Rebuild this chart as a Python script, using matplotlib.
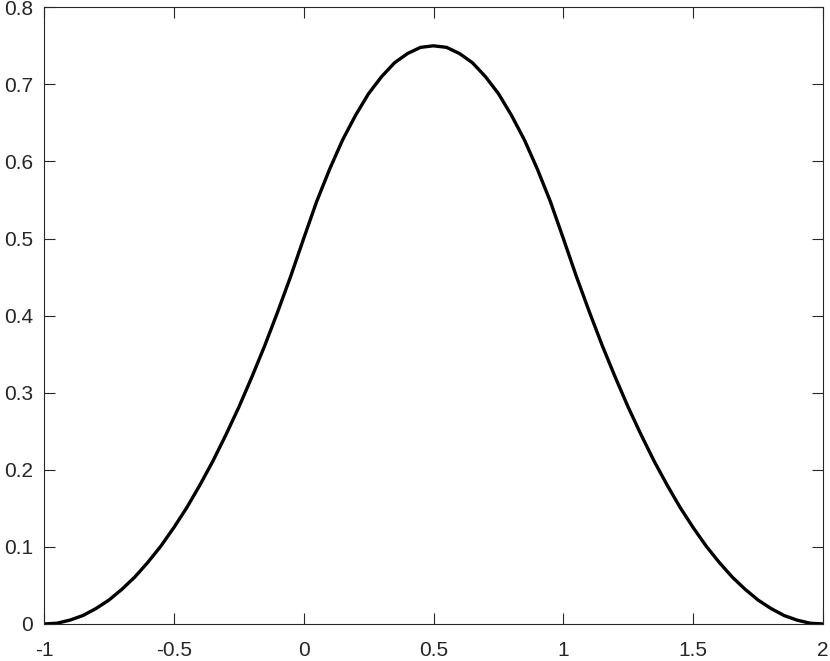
import matplotlib
matplotlib.use("Agg")
import matplotlib.pyplot as plt

# curve samples (step 0.05)
x = [-1.0, -0.95, -0.9, -0.85, -0.8, -0.75, -0.7, -0.65, -0.6, -0.55, -0.5,
     -0.45, -0.4, -0.35, -0.3, -0.25, -0.2, -0.15, -0.1, -0.05, 0.0,
     0.05, 0.1, 0.15, 0.2, 0.25, 0.3, 0.35, 0.4, 0.45, 0.5,
     0.55, 0.6, 0.65, 0.7, 0.75, 0.8, 0.85, 0.9, 0.95, 1.0,
     1.05, 1.1, 1.15, 1.2, 1.25, 1.3, 1.35, 1.4, 1.45, 1.5,
     1.55, 1.6, 1.65, 1.7, 1.75, 1.8, 1.85, 1.9, 1.95, 2.0]
y = [0.0, 0.001, 0.005, 0.011, 0.02, 0.031, 0.045, 0.061, 0.08, 0.101, 0.125,
     0.151, 0.18, 0.211, 0.245, 0.281, 0.32, 0.361, 0.405, 0.451, 0.5,
     0.548, 0.59, 0.628, 0.66, 0.688, 0.71, 0.728, 0.74, 0.748, 0.75,
     0.748, 0.74, 0.728, 0.71, 0.688, 0.66, 0.628, 0.59, 0.548, 0.5,
     0.451, 0.405, 0.361, 0.32, 0.281, 0.245, 0.211, 0.18, 0.151, 0.125,
     0.101, 0.08, 0.061, 0.045, 0.031, 0.02, 0.011, 0.005, 0.001, 0.0]

xticks = [-1, -0.5, 0, 0.5, 1, 1.5, 2]
xlabels = ['-1', '-0.5', '0', '0.5', '1', '1.5', '2']
yticks = [0, 0.1, 0.2, 0.3, 0.4, 0.5, 0.6, 0.7, 0.8]
ylabels = ['0', '0.1', '0.2', '0.3', '0.4', '0.5', '0.6', '0.7', '0.8']

plt.rcParams['font.family'] = ['Liberation Sans', 'DejaVu Sans']
axcol = (0.15, 0.15, 0.15)

fig = plt.figure(figsize=(8.3, 6.61), dpi=100)
ax = fig.add_axes([0.053, 0.056, 0.9386, 0.933])
ax.plot(x, y, color='black', linewidth=2.4,
        solid_joinstyle='round', solid_capstyle='round')

ax.set_xlim(-1, 2)
ax.set_ylim(0, 0.8)
ax.set_xticks(xticks)
ax.set_xticklabels(xlabels)
ax.set_yticks(yticks)
ax.set_yticklabels(ylabels)
ax.tick_params(direction='in', length=8, width=0.8, colors=axcol,
               labelsize=15, top=True, right=True)
ax.tick_params(axis='x', pad=12)
ax.tick_params(axis='y', pad=8)
for s in ax.spines.values():
    s.set_color(axcol)
    s.set_linewidth(0.8)

fig.savefig("out.png", dpi=100)
